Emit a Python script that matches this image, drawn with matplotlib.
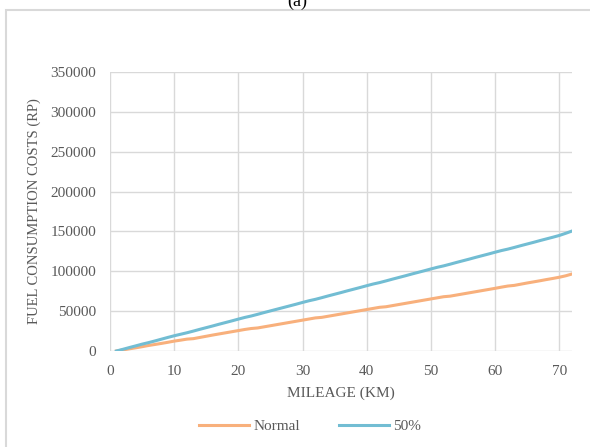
import matplotlib
matplotlib.use('Agg')
import matplotlib.pyplot as plt
from matplotlib.patches import Rectangle

# mileage (km) and fuel cost (Rp)
mileage = list(range(1, 73))
normal = [0, 1300, 2700, 4000, 5400, 6900, 8200, 9500, 10900, 12400,
          13600, 14900, 15500, 17000, 18500, 20000, 21400, 22800, 24200, 25600,
          27000, 28200, 28900, 30300, 31700, 33100, 34500, 35900, 37300, 38700,
          40100, 41500, 42200, 43600, 45000, 46400, 47800, 49200, 50600, 52000,
          53400, 54800, 55500, 56900, 58300, 59700, 61100, 62500, 63900, 65300,
          66700, 68100, 68800, 70200, 71600, 73000, 74400, 75800, 77200, 78600,
          80100, 81500, 82300, 83800, 85300, 86700, 88100, 89600, 91000, 92500,
          94300, 96600]
half = [0, 2100, 4300, 6400, 8600, 10500, 12600, 14800, 17000, 19100,
        21000, 22900, 25000, 27200, 29300, 31400, 33600, 35700, 37800, 40000,
        42100, 43900, 46000, 48200, 50300, 52400, 54500, 56600, 58700, 60900,
        63000, 64800, 66900, 69100, 71200, 73300, 75500, 77600, 79700, 81900,
        84000, 85800, 87900, 90100, 92200, 94300, 96500, 98600, 100700, 102900,
        105000, 106800, 108900, 111100, 113200, 115300, 117500, 119600, 121700, 123900,
        126000, 127800, 129900, 132100, 134200, 136300, 138500, 140600, 142700, 144900,
        147600, 150500]
xticks = [0, 10, 20, 30, 40, 50, 60, 70]
yticks = [0, 50000, 100000, 150000, 200000, 250000, 300000, 350000]

plt.rcParams['font.family'] = ['Liberation Serif', 'DejaVu Serif']
grey = '#595959'

fig = plt.figure(figsize=(5.9, 4.47), dpi=100)
W, H = 590, 447

# outer frame of the chart
fig.patches.append(Rectangle((6 / W, -0.05), 1.0, 1.05 - 10 / H, transform=fig.transFigure,
                             fill=False, edgecolor='#D9D9D9', linewidth=1.5))
fig.text(0.503, 0.997, '(a)', ha='center', va='center', fontsize=13, color='black')

ax = fig.add_axes([110 / W, 96 / H, 462 / W, 279 / H])
ax.plot(mileage, normal, color='#F8B07C', linewidth=2.2, label='Normal')
ax.plot(mileage, half, color='#72BDD3', linewidth=2.2, label='50%')

ax.set_xlim(0, 72)
ax.set_ylim(0, 350000)
ax.set_xticks(xticks)
ax.set_yticks(yticks)
ax.grid(True, color='#D9D9D9', linewidth=1)
ax.set_axisbelow(True)
for s in ax.spines.values():
    s.set_visible(False)
ax.tick_params(length=0, labelsize=11, colors=grey)
ax.tick_params(axis='x', pad=10)
ax.tick_params(axis='y', pad=10)

ax.set_xlabel('MILEAGE (KM)', fontsize=11, color=grey, labelpad=6)
ax.set_ylabel('FUEL CONSUMPTION COSTS (RP)', fontsize=10.5, color=grey, labelpad=7)

ax.legend(loc='upper center', bbox_to_anchor=(0.433, -0.195), ncol=2, frameon=False,
          fontsize=11, labelcolor=grey, handlelength=3.3, columnspacing=2.5, handletextpad=0.3)

fig.savefig('out.png', dpi=100)
